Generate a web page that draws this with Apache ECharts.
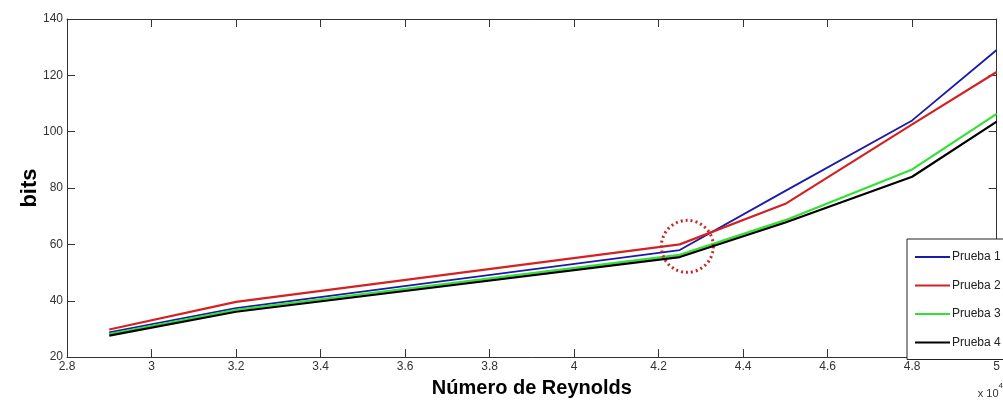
<!DOCTYPE html>
<html>
<head>
<meta charset="utf-8">
<script src="https://cdn.jsdelivr.net/npm/echarts@6/dist/echarts.min.js"></script>
<style>
html,body{margin:0;padding:0;background:#fff;}
#c{width:1003px;height:403px;}
</style>
</head>
<body>
<div id="c"></div>
<script>
const reynolds = [2.9, 3.2, 4.25, 4.5, 4.8, 5.0];
const prueba1 = [28.8, 37.4, 58.0, 79.0, 104.0, 129.0];
const prueba2 = [29.8, 39.6, 60.0, 74.4, 102.6, 121.2];
const prueba3 = [28.2, 36.8, 56.3, 68.6, 86.6, 106.3];
const prueba4 = [27.6, 36.1, 55.5, 67.8, 84.0, 103.6];
const seriesNames = ['Prueba 1', 'Prueba 2', 'Prueba 3', 'Prueba 4'];
const seriesColors = ['#1a1aa8', '#d42222', '#33e033', '#000000'];
const highlightPoint = [4.268, 59.3];

const font = "'Liberation Sans', Arial, sans-serif";
const chart = echarts.init(document.getElementById('c'), null, {renderer: 'canvas'});
const pair = arr => reynolds.map((x, i) => [x, arr[i]]);
const allData = [prueba1, prueba2, prueba3, prueba4];

const axisLine = {show: true, lineStyle: {color: '#333', width: 1}};
const tickIn = {show: true, inside: true, length: 8, lineStyle: {color: '#333'}};

const series = allData.map((d, i) => ({
  name: seriesNames[i],
  type: 'line',
  data: pair(d),
  symbol: 'none',
  lineStyle: {color: seriesColors[i], width: i === 0 ? 1.8 : 2.2},
  itemStyle: {color: seriesColors[i]},
  z: 2 + i
}));
series[1].markPoint = {
  symbol: 'circle',
  symbolSize: 52,
  silent: true,
  label: {show: false},
  itemStyle: {color: 'rgba(0,0,0,0)', borderColor: '#c42a2a', borderWidth: 3, borderType: [2, 3]},
  data: [{coord: highlightPoint}]
};

chart.setOption({
  animation: false,
  backgroundColor: '#fff',
  textStyle: {fontFamily: font},
  grid: {left: 67, top: 19, right: 1, bottom: 44, containLabel: false},
  xAxis: [{
    type: 'value', min: 2.8, max: 5, interval: 0.2,
    name: 'Número de Reynolds', nameLocation: 'middle', nameGap: 18,
    nameTextStyle: {fontSize: 20, fontWeight: 'bold', color: '#000', fontFamily: font},
    axisLine: axisLine, axisTick: tickIn, splitLine: {show: false},
    axisLabel: {color: '#333', fontSize: 12, margin: 4, fontFamily: font,
      formatter: v => String(Math.round(v * 10) / 10)}
  }, {
    type: 'value', position: 'top', min: 2.8, max: 5, interval: 0.2,
    axisLine: axisLine, axisTick: tickIn, splitLine: {show: false}, axisLabel: {show: false}
  }],
  yAxis: [{
    type: 'value', min: 20, max: 140, interval: 20,
    name: 'bits', nameLocation: 'middle', nameGap: 26, nameRotate: 90, nameMoveOverlap: false,
    nameTextStyle: {fontSize: 22, fontWeight: 'bold', color: '#000', fontFamily: font},
    axisLine: axisLine, axisTick: tickIn, splitLine: {show: false},
    axisLabel: {color: '#333', fontSize: 12, margin: 4, fontFamily: font}
  }, {
    type: 'value', position: 'right', min: 20, max: 140, interval: 20,
    axisLine: axisLine, axisTick: tickIn, splitLine: {show: false}, axisLabel: {show: false}
  }],
  legend: {
    orient: 'vertical', left: 907, top: 239,
    data: seriesNames,
    icon: 'path://M0,0 L35,0 L35,2 L0,2 Z',
    itemWidth: 35, itemHeight: 2, itemGap: 16.5,
    padding: [12, 6, 11, 8],
    backgroundColor: '#fff', borderColor: '#222', borderWidth: 1, borderRadius: 0,
    textStyle: {fontSize: 12, color: '#222', fontFamily: font, padding: [0, 0, 0, -3]}
  },
  graphic: [{
    type: 'text', right: 0, top: 382,
    style: {
      text: '{a|x 10}{b|4}',
      rich: {
        a: {fontSize: 11, fill: '#333', fontFamily: font, padding: [6, 0, 0, 0]},
        b: {fontSize: 8, fill: '#333', fontFamily: font, verticalAlign: 'top'}
      }
    }
  }],
  series: series
});
</script>
</body>
</html>
